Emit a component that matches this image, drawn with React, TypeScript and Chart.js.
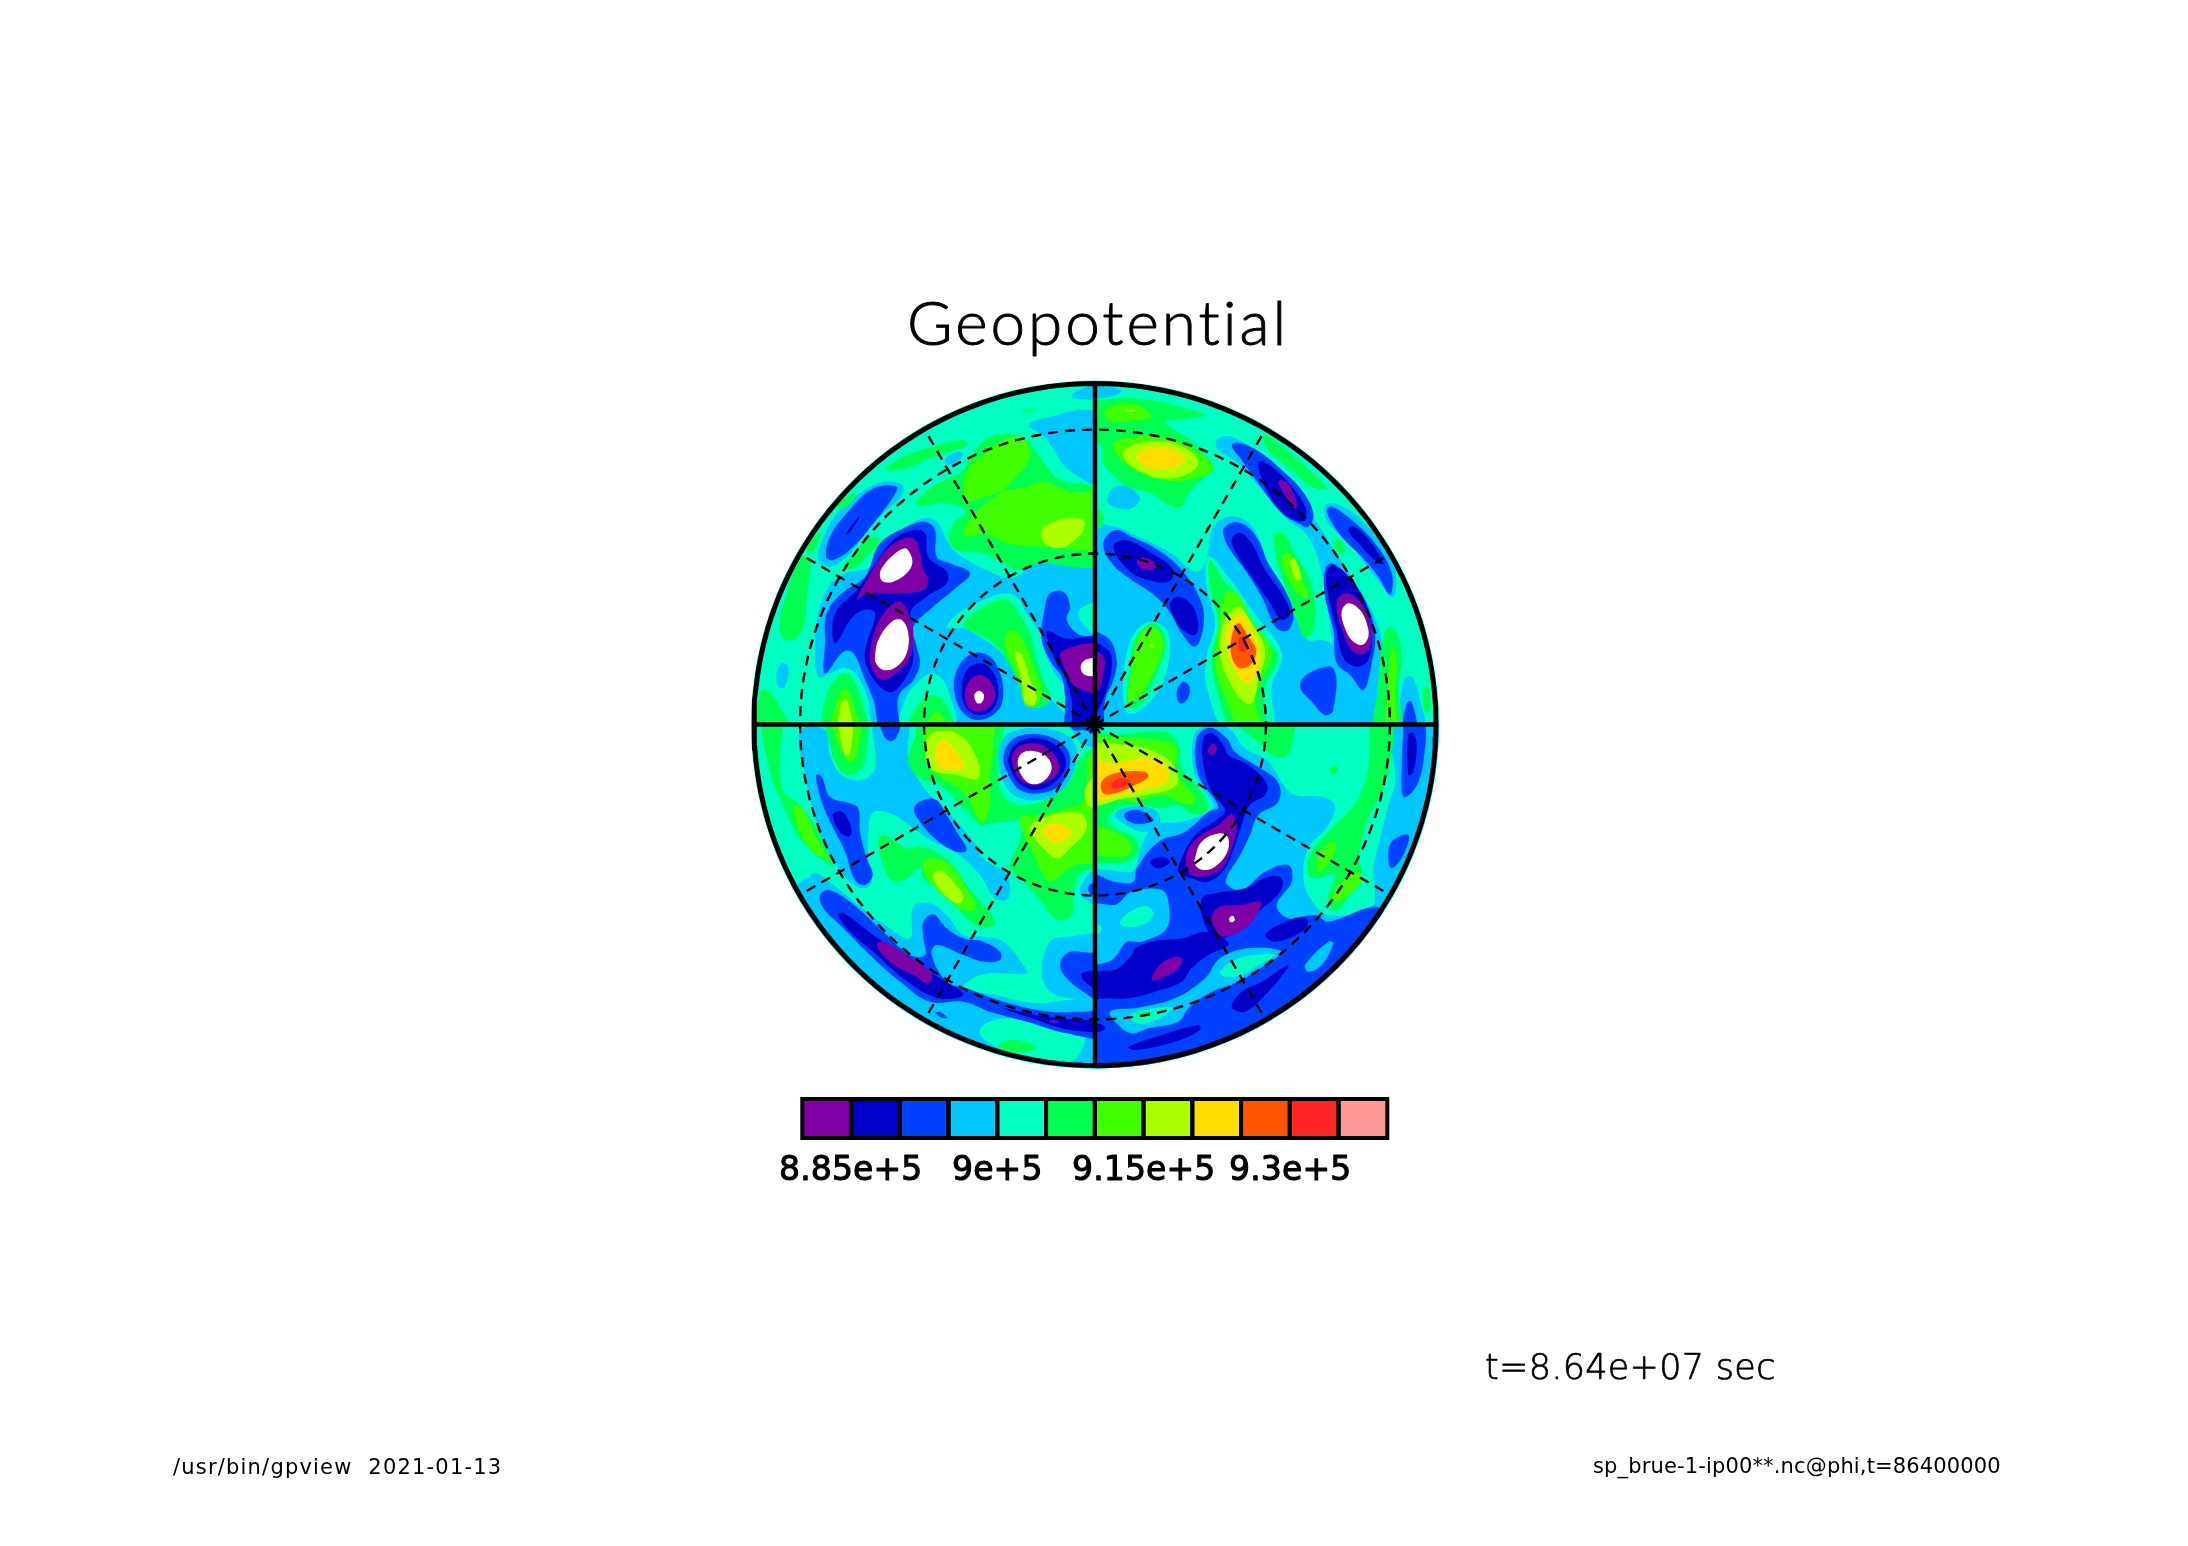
import React, { useEffect, useRef } from "react";
import { Chart, registerables } from "chart.js";

const quadClip = {
  id: "quadClip",
  beforeDatasetDraw(chart: any, args: any) {
    const ctx = chart.ctx;
    ctx.save();
    const q = chart.data.datasets[args.index].quad;
    if (q) {
      const { x, y } = chart.scales;
      const x0 = x.getPixelForValue(q[0]), y0 = y.getPixelForValue(q[1]);
      ctx.beginPath();
      ctx.rect(x0, y0, x.getPixelForValue(q[0] + 400) - x0, y.getPixelForValue(q[1] + 400) - y0);
      ctx.clip();
    }
  },
  afterDatasetDraw(chart: any) {
    chart.ctx.restore();
  },
};
// Registered ahead of the filler so that each contour's fill is clipped to its own quadrant.
Chart.register(quadClip);
Chart.register(...registerables);

const W = 2188, H = 1546;
const CX = 1095, CY = 724.5, R = 341;

const chartTitle = "Geopotential";
const legendColors = ["#7f00a5", "#0000c8", "#0040ff", "#00c8ff", "#00ffc0", "#00ff50", "#40ff00", "#aaff00", "#ffdd00", "#ff5500", "#ff2525", "#ff9999"];
const legendTicks = ["8.85e+5", "9e+5", "9.15e+5", "9.3e+5"];
const timeLabel = "t=8.64e+07 sec";
const footerLeft = "/usr/bin/gpview  2021-01-13";
const footerRight = "sp_brue-1-ip00**.nc@phi,t=86400000";
const latitudeRadii = [171, 295];
const meridians = [30, 60, 120, 150, 210, 240, 300, 330];
const solidMeridians = [0, 90, 180, 270];

const [WH, P, D, B, C, A, G, L, Y, O, RD, E] = [-1, 0, 1, 2, 3, 4, 5, 6, 7, 8, 9, 10];

type Contour = [number, number[]];

const contoursNW: Contour[] = [
  [C, [965,50,985,30,1035,22,1035,55,1000,58]],
  [C, [205,540,225,460,280,380,385,310,450,310,460,340,400,400,340,470,290,530,240,560]],
  [C, [205,700,235,620,285,580,360,560,400,490,470,440,520,415,560,425,590,480,610,510,660,545,720,575,760,590,800,590,840,560,900,535,1035,525,1060,800,1060,1060,375,1060,355,960,320,890,280,868,240,880,205,890,195,790]],
  [C, [80,880,95,850,115,860,105,920,85,920]],
  [C, [835,135,880,115,1035,95,1060,200,1035,310,985,290,940,255,905,200,870,160]],
  [G, [720,170,800,165,830,180,880,245,930,300,1035,325,1060,440,1035,555,960,560,880,550,800,570,760,550,700,520,620,510,598,480,610,430,650,395,590,370,500,375,540,325,640,270,660,230]],
  [L, [650,275,700,225,760,180,815,170,840,230,770,320,720,360,690,385,640,450,650,470,700,460,770,490,880,500,1000,510,1035,515,1060,430,1035,345,960,335,880,305,830,320,770,330,720,345,650,360]],
  [Y, [875,450,900,430,950,415,1000,420,1003,440,985,470,930,505,885,490]],
  [G, [408,270,450,235,530,205,640,180,650,195,600,215,540,235,470,265]],
  [C, [585,240,620,215,640,225,600,255]],
  [G, [815,90,860,85,850,92,820,95]],
  [G, [90,720,110,640,150,530,180,540,170,650,160,740,130,780,95,770]],
  [G, [20,1060,30,940,50,930,90,980,120,1060]],
  [G, [170,510,195,470,215,460,185,520]],
  [G, [260,375,310,340,320,345,280,385]],
  [G, [285,565,310,520,350,480,385,470,385,490,350,530,310,565]],
  [A, [590,740,640,690,700,660,760,640,800,650,830,700,875,770,890,830,915,880,950,930,975,990,960,1010,925,980,870,920,830,880,790,860,745,810,690,770,640,745]],
  [G, [640,735,700,680,770,660,800,690,840,760,860,840,880,900,900,950,880,980,830,975,800,900,770,840,730,790,680,760]],
  [L, [765,770,790,750,820,780,850,860,875,930,860,975,825,975,810,900,775,830]],
  [Y, [795,815,815,825,840,900,860,950,850,975,825,965,815,900]],
  [A, [985,700,1000,680,1040,670,1040,765,1000,730]],
  [A, [455,1060,465,960,510,900,550,880,590,920,610,1060]],
  [G, [480,1060,500,980,550,945,590,975,610,1060]],
  [L, [525,1060,545,1005,570,1000,590,1060]],
  [A, [210,1060,215,950,250,880,290,865,330,900,350,980,365,1060]],
  [G, [222,1060,228,950,260,895,290,880,320,920,340,980,350,1060]],
  [L, [248,1060,258,970,285,925,310,970,322,1060]],
  [Y, [268,1060,272,975,285,958,298,980,305,1060]],
  [B, [228,530,240,470,290,400,370,325,440,320,430,350,370,430,310,500,250,540]],
  [D, [287,460,325,410,328,413,295,462]],
  [B, [225,790,230,700,275,640,345,590,390,490,470,440,525,425,555,450,560,530,600,550,660,580,610,630,550,680,490,740,500,800,510,850,490,900,445,950,445,1060,395,1060,370,960,345,900,310,820,280,815,225,880]],
  [D, [255,790,255,700,320,630,370,560,430,480,490,450,525,460,535,530,590,575,590,610,530,650,480,700,490,830,480,870,430,935,390,920,350,860,345,810,375,700,340,690,300,720]],
  [P, [320,660,350,600,400,520,440,485,490,475,510,520,520,570,535,600,520,630,440,640,380,640,340,645]],
  [WH, [390,590,395,565,430,525,465,505,480,520,487,550,470,580,430,605,400,605]],
  [P, [360,830,375,750,410,690,450,665,480,710,490,760,480,830,450,870,400,900,370,875]],
  [WH, [375,830,385,780,425,725,455,720,475,760,470,820,440,860,400,870,378,850]],
  [B, [612,930,625,860,670,820,720,830,750,880,760,940,745,990,690,1020,640,1000]],
  [D, [635,930,650,870,690,850,725,870,745,930,730,985,690,1005,650,985]],
  [P, [645,935,665,895,695,885,725,910,735,950,715,985,680,995,650,975]],
  [WH, [673,945,687,932,702,945,695,968,680,968]],
  [B, [885,680,900,640,940,635,960,680,950,720,990,765,1060,775,1060,1060,955,1060,945,950,935,890,905,850,875,780]],
  [D, [890,755,940,775,1060,785,1060,1060,975,1060,965,960,945,890,920,850]],
  [P, [935,815,1060,800,1060,940,1000,930,965,910,945,870]],
  [WH, [992,860,1010,838,1050,838,1050,882,1005,885]],
];

const contoursNE: Contour[] = [
  [C, [-20,20,80,30,50,50,-20,50]],
  [C, [365,180,410,170,500,230,590,330,660,420,730,530,800,640,850,740,860,820,840,900,780,930,730,860,700,700,680,580,640,470,580,420,500,330,430,250,370,210]],
  [C, [-20,445,60,440,130,470,230,520,300,575,330,550,355,440,400,410,450,420,490,470,520,560,560,640,590,700,610,720,640,780,680,780,720,800,770,920,840,900,855,780,850,900,830,1060,-20,1060]],
  [C, [40,345,60,320,100,320,135,355,110,385,70,385,40,370]],
  [C, [925,900,950,890,975,960,990,1060,920,1060]],
  [C, [690,380,720,370,800,420,870,510,900,560,895,650,840,590,770,500,700,430]],
  [G, [-20,75,70,55,170,60,270,85,330,105,280,115,210,125,240,150,300,190,355,265,330,290,280,340,260,380,220,375,170,340,100,320,60,290,25,250,20,200,-20,170]],
  [L, [30,90,90,70,140,80,170,110,100,125,40,120]],
  [Y, [95,90,120,90,120,94,95,94]],
  [L, [55,190,120,170,200,170,290,205,355,265,300,295,200,300,120,270,70,230]],
  [Y, [85,215,130,190,210,185,280,210,310,250,270,285,200,295,140,275,95,245]],
  [O, [125,225,160,205,225,205,270,235,245,262,190,268,145,255]],
  [G, [-20,390,20,395,20,440,-20,440]],
  [G, [505,165,550,190,620,250,695,325,650,320,590,270,520,210]],
  [G, [715,490,735,480,750,510,735,520]],
  [G, [540,465,565,460,600,520,640,590,660,680,650,760,625,770,600,700,570,620,545,540]],
  [L, [560,530,585,520,620,600,640,650,620,650,580,600]],
  [Y, [585,545,598,535,620,595,605,600]],
  [G, [860,800,880,740,905,760,920,830,910,920,915,1060,840,1060,850,920]],
  [L, [875,1060,880,880,890,800,905,850,900,960,905,1060]],
  [G, [985,930,1000,920,1005,990,990,995]],
  [A, [340,530,400,590,470,690,560,820,530,920,530,1060,400,1060,335,920,335,830,360,730,335,620]],
  [G, [345,540,385,600,430,650,470,720,520,790,550,830,510,920,505,1060,420,1060,365,930,350,830,370,730,345,620]],
  [L, [390,640,425,640,470,720,530,815,500,900,480,960,500,1060,440,1060,395,960,362,860,370,760]],
  [Y, [385,730,430,680,470,730,510,810,490,900,470,970,440,960,395,890,375,820]],
  [O, [400,740,440,700,470,750,495,810,480,890,450,910,415,860,395,800]],
  [RD, [410,770,430,730,460,770,483,810,470,850,435,865,410,830]],
  [E, [430,780,450,770,455,810,440,815]],
  [A, [85,900,100,800,130,745,170,725,215,750,225,810,205,900,150,980,100,1000,85,960]],
  [G, [95,950,105,860,120,780,170,730,205,760,210,810,185,880,140,970,105,985]],
  [L, [100,960,115,840,130,770,170,740,200,770,200,820,170,890,130,950]],
  [Y, [165,793,178,798,172,803,164,798]],
  [B, [245,935,265,905,285,925,275,960,255,970]],
  [B, [615,920,640,880,715,865,715,990,690,1005,650,965]],
  [B, [25,490,60,450,110,470,190,510,265,575,320,670,325,740,300,800,260,760,220,690,170,640,110,600,50,550]],
  [D, [55,500,90,480,170,520,235,570,220,605,160,600,100,570]],
  [P, [125,545,150,533,185,555,170,570,140,565]],
  [D, [225,670,250,650,290,675,310,730,300,765,265,750,240,720]],
  [B, [385,450,410,428,450,435,490,480,520,550,570,630,595,700,580,750,545,745,500,650,450,570,400,500]],
  [D, [410,480,435,458,470,490,510,570,560,640,585,700,560,720,520,660,470,590,430,530]],
  [B, [410,195,440,190,500,220,560,270,620,330,655,400,640,440,610,430,560,400,490,310,440,240]],
  [D, [490,245,530,260,590,320,630,380,630,420,600,420,555,390,510,320]],
  [P, [550,305,575,305,605,365,600,385,580,360]],
  [B, [695,395,710,380,770,420,840,490,890,580,885,645,850,590,800,530,740,470]],
  [D, [760,450,780,440,830,490,865,550,850,550,800,500]],
  [B, [690,570,710,550,760,590,810,660,840,760,830,850,805,930,765,885,725,850,715,750,690,650]],
  [D, [695,580,715,555,770,600,815,680,830,770,820,840,785,860,745,835,725,750,700,650]],
  [P, [725,665,755,640,790,660,820,710,830,780,810,820,775,815,745,760]],
  [WH, [740,695,760,670,795,690,815,730,820,770,800,795,770,780,750,745]],
  [B, [925,1060,935,970,950,965,965,1060]],
  [B, [-25,760,40,775,65,840,55,900,30,960,20,1060,-25,1060]],
  [D, [-25,790,40,810,50,860,35,930,10,990,-25,1060]],
  [P, [-25,805,25,830,25,880,10,930,-25,945]],
];

const contoursSW: Contour[] = [
  [G, [38,-20,92,-20,90,100,100,200,140,230,200,310,250,420,225,410,150,340,90,220,55,120]],
  [L, [135,240,165,260,200,340,230,400,180,370,140,300]],
  [C, [150,18,225,15,240,90,275,150,335,165,375,130,375,-20,470,-20,475,90,510,170,560,230,620,290,670,350,700,400,770,450,775,520,735,520,690,450,620,385,540,345,470,295,420,265,370,262,355,320,355,400,365,470,340,490,300,470,265,430,225,360,190,260,165,150]],
  [G, [235,-20,345,-20,350,70,335,130,290,150,260,120,240,60]],
  [L, [245,-20,325,-20,320,90,300,110,275,80,255,30]],
  [Y, [268,-20,305,-20,300,85,285,90,272,40]],
  [B, [392,-20,450,-20,440,35,420,48,400,30]],
  [B, [198,150,215,155,240,215,300,235,325,250,330,320,350,400,368,450,345,480,315,465,285,380,245,300,215,230]],
  [D, [248,270,270,258,290,275,305,320,295,335,270,320]],
  [B, [492,250,520,225,560,225,590,270,620,320,650,375,620,380,560,345,510,290]],
  [G, [385,350,400,330,470,370,510,365,590,400,650,480,700,540,735,595,690,605,640,570,590,510,520,460,510,430,470,460,430,470,400,420]],
  [L, [518,420,545,400,600,420,650,490,680,550,640,555,590,520,540,470]],
  [Y, [548,455,570,435,610,470,640,515,625,535,585,510]],
  [G, [475,110,495,40,520,-20,745,-20,755,70,745,170,770,225,830,240,900,215,960,160,1000,90,1060,60,1060,430,995,440,970,500,965,570,925,585,880,540,840,490,800,450,780,420,810,340,810,290,760,290,720,295,690,300,640,250,570,180,510,160]],
  [L, [530,100,520,40,530,-20,720,-20,730,70,720,150,720,240,700,290,680,270,640,200,560,150]],
  [L, [810,280,870,270,950,250,1000,230,1010,180,1015,100,1060,70,1060,400,975,420,900,470,880,450,850,390]],
  [Y, [530,50,555,20,630,30,680,100,685,160,620,150,540,130]],
  [O, [555,90,565,55,585,45,615,75,645,125,615,135,570,130]],
  [Y, [840,310,890,275,990,265,1010,310,950,380,920,400,880,370]],
  [O, [875,318,910,295,950,305,965,320,945,345,915,355,885,335]],
  [Y, [1012,240,1010,180,1060,150,1060,245]],
  [C, [945,-20,1060,-20,1060,60,1000,60,975,30]],
  [B, [960,-20,1060,-20,1060,30,1000,15,970,15]],
  [C, [745,90,760,40,800,15,880,10,950,30,980,70,970,140,930,200,870,225,800,215,760,170]],
  [B, [760,100,780,50,830,28,900,35,950,70,960,120,930,180,870,205,810,195,775,150]],
  [D, [775,100,795,60,840,40,900,50,940,85,945,130,910,175,860,195,815,180,785,140]],
  [P, [785,105,800,70,840,55,885,65,920,100,925,140,890,170,850,180,810,165]],
  [WH, [803,115,815,85,850,78,890,95,905,130,885,165,850,178,820,160]],
  [C, [990,490,1030,440,1060,540,1000,520]],
  [B, [1018,480,1060,470,1060,510,1020,505]],
  [C, [160,470,195,445,250,480,330,545,420,610,480,640,490,545,540,535,590,570,640,630,700,635,760,650,820,720,830,745,700,748,640,790,740,810,860,835,980,825,1060,850,1060,1100,500,1100,100,700,100,500]],
  [C, [875,735,900,650,950,635,1060,640,1060,860,980,825,900,800]],
  [A, [690,930,700,900,770,880,850,895,940,920,1000,925,1000,965,960,1010,860,1000,760,975]],
  [G, [745,960,790,945,860,965,820,980,770,978]],
  [B, [210,510,235,495,300,530,400,620,480,690,525,690,520,640,520,590,550,568,590,610,640,640,700,650,750,680,750,705,700,710,640,690,560,660,545,690,590,770,650,790,760,830,900,860,1000,860,1060,860,1060,935,950,925,830,890,720,860,640,830,540,830,450,770,370,700,280,610,220,550]],
  [D, [265,570,280,563,370,630,470,700,570,760,640,805,620,820,550,815,460,760,370,680,300,620]],
  [D, [760,850,860,870,1000,885,1060,880,1060,915,960,915,860,885]],
  [P, [380,660,400,650,470,690,545,745,535,775,490,750,420,710]],
  [P, [898,887,925,887,925,892,900,892]],
  [B, [555,863,570,862,592,878,575,878]],
  [B, [930,720,950,685,990,680,1060,700,1060,830,1000,800,950,760]],
  [D, [995,745,1060,740,1060,800,1005,770]],
];

const contoursSE: Contour[] = [
  [C, [-20,455,110,440,140,360,180,300,260,290,320,270,355,240,300,150,295,40,325,5,400,10,450,70,520,110,590,205,680,215,720,240,700,300,640,370,625,450,640,510,700,570,830,545,840,500,835,430,860,320,880,240,900,170,897,-20,1100,-20,1100,1100,-20,1100]],
  [B, [-20,455,60,470,115,470,125,430,190,350,270,320,340,260,370,245,310,150,305,40,345,8,395,40,420,80,480,120,548,170,550,230,490,270,465,330,430,400,398,450,395,478,440,495,510,440,580,420,590,470,545,540,580,580,660,570,700,590,830,545,870,560,1100,800,500,1100,-20,1100]],
  [C, [-20,545,60,540,110,500,200,495,220,530,215,610,140,650,95,650,65,690,40,710,-20,710]],
  [A, [75,590,115,555,160,545,175,570,140,600,90,605]],
  [A, [-20,590,20,610,-20,650]],
  [C, [45,860,120,850,240,820,330,760,375,700,460,670,560,680,510,720,430,770,350,800,280,850,250,890,160,910,110,925,70,900]],
  [A, [375,740,430,700,480,690,540,690,490,720,440,750,390,755]],
  [A, [105,870,180,850,235,850,170,890,125,895]],
  [G, [120,865,170,860,150,875]],
  [C, [630,720,700,650,715,655,680,720,640,740]],
  [D, [-20,750,60,735,110,690,120,670,170,650,260,640,330,620,385,640,400,660,340,690,290,730,260,770,180,800,100,820,30,820,-20,820]],
  [P, [170,765,190,725,225,700,260,700,250,730,210,755]],
  [D, [325,40,350,25,385,60,400,90,460,120,515,175,510,210,465,240,440,300,420,360,390,430,340,470,290,460,250,440,260,400,300,330,370,280,390,255,350,200,325,120]],
  [D, [165,410,200,395,225,410,190,430]],
  [P, [272,400,300,345,370,300,410,268,425,300,410,370,380,430,340,450,290,450]],
  [P, [340,70,355,55,365,70,355,90,342,85]],
  [WH, [300,400,320,350,375,325,400,340,395,385,360,425,325,435,300,420]],
  [D, [320,520,360,505,450,490,520,455,560,460,555,500,490,560,420,620,370,640,330,600]],
  [P, [350,575,375,545,440,540,495,530,490,560,450,610,385,635,360,610]],
  [WH, [402,582,412,572,420,585,408,592]],
  [D, [510,630,550,600,620,575,640,590,620,620,540,650]],
  [D, [410,845,440,800,500,770,580,720,555,760,520,800,450,860]],
  [D, [100,965,200,930,310,900,315,915,240,950,120,975]],
  [D, [-20,890,30,905,20,918,-20,918]],
  [C, [60,270,100,245,180,255,195,300,150,320,110,310]],
  [G, [-20,30,60,30,210,20,250,60,260,130,310,190,335,230,330,265,290,265,250,240,200,250,130,240,70,250,40,280,60,310,115,335,130,380,95,410,30,415,-20,400]],
  [B, [90,265,130,255,175,285,130,297,95,285]],
  [L, [-20,50,100,40,215,50,245,70,240,130,270,180,300,220,280,240,200,210,120,230,60,220,-20,240]],
  [Y, [-20,70,100,60,200,90,240,130,245,180,180,205,90,220,-20,235]],
  [O, [-20,110,60,115,130,100,190,100,215,130,215,170,160,190,80,210,-20,220]],
  [RD, [20,170,60,145,150,140,160,155,120,180,60,205,25,205]],
  [E, [50,175,80,160,105,170,80,188,55,190]],
  [L, [-20,310,60,320,110,360,100,390,40,395,-20,380]],
  [G, [415,-20,590,-20,590,60,570,95,530,90,500,60]],
  [G, [830,-20,890,-20,885,120,860,200,820,280,790,400,800,440,720,560,700,510,720,450,665,460,640,450,645,390,700,320,770,250,810,170,825,80]],
  [L, [665,420,680,375,720,350,715,395,695,420,670,440]],
  [L, [710,510,750,460,790,440,800,470,740,525,712,530]],
  [G, [705,130,720,120,727,140,712,148]],
  [B, [925,20,930,-20,985,-20,985,110,960,190,925,215,920,120]],
  [D, [940,30,955,25,965,60,955,140,940,150]],
  [B, [880,400,890,350,940,330,925,390,890,430]],
];

// Closed loop, with one vertex repeated at each end so the spline stays smooth across the seam.
const toPoints = (flat: number[], ox: number, oy: number) => {
  const pts: { x: number; y: number }[] = [];
  for (let i = 0; i < flat.length; i += 2) pts.push({ x: ox + flat[i] / 3, y: oy + flat[i + 1] / 3 });
  return [pts[pts.length - 1], ...pts, pts[0], pts[1]].map((p) => ({ ...p }));
};

const colorOf = (lv: number) => (lv < 0 ? "#ffffff" : legendColors[lv]);

const buildDatasets = () => {
  const ds: any[] = [];
  const area = (data: any[], color: string, tension = 0.38, quad: number[] | null = null) => ({
    data, showLine: true, fill: "shape", backgroundColor: color, borderWidth: 0, borderColor: color, pointRadius: 0, tension, quad,
  });
  const line = (data: any[], width: number, dash: number[] = []) => ({
    data, showLine: true, fill: false, borderColor: "#000", borderWidth: width, borderDash: dash, pointRadius: 0, tension: 0, borderCapStyle: "butt",
  });
  ds.push(area([{ x: -R - 5, y: -R - 5 }, { x: R + 5, y: -R - 5 }, { x: R + 5, y: R + 5 }, { x: -R - 5, y: R + 5 }, { x: -R - 5, y: -R - 5 }], legendColors[4], 0));
  const groups: [Contour[], number, number, number[]][] = [
    [contoursNW, -345, -344.5, [-400, -400]], [contoursNE, 0, -344.5, [0, -400]], [contoursSW, -345, 0.5, [-400, 0]], [contoursSE, 0, 0.5, [0, 0]],
  ];
  for (const [list, ox, oy, quad] of groups) for (const [lv, flat] of list) ds.push(area(toPoints(flat, ox, oy), colorOf(lv), 0.38, quad));
  for (const a of meridians) {
    const t = (a * Math.PI) / 180;
    ds.push(line([{ x: 0, y: 0 }, { x: R * Math.cos(t), y: -R * Math.sin(t) }], 2.4, [10, 7]));
  }
  for (const r of latitudeRadii) {
    const pts = [];
    for (let d = 0; d <= 360; d += 3) pts.push({ x: r * Math.cos((d * Math.PI) / 180), y: r * Math.sin((d * Math.PI) / 180) });
    ds.push(line(pts, 2.4, [10, 7]));
  }
  for (const a of solidMeridians) {
    const t = (a * Math.PI) / 180;
    ds.push(line([{ x: 0, y: 0 }, { x: R * Math.cos(t), y: -R * Math.sin(t) }], 4.5));
  }
  const ring = [];
  for (let d = 0; d <= 360; d += 2) ring.push({ x: R * Math.cos((d * Math.PI) / 180), y: R * Math.sin((d * Math.PI) / 180) });
  ds.push(line(ring, 5));
  return ds.map((d, i) => ({ ...d, order: -i }));
};

const mapClip = {
  id: "mapClip",
  beforeDatasetsDraw(chart: any) {
    const { ctx, scales } = chart;
    ctx.save();
    ctx.beginPath();
    ctx.arc(scales.x.getPixelForValue(0), scales.y.getPixelForValue(0), R + 3, 0, Math.PI * 2);
    ctx.clip();
  },
  afterDatasetsDraw(chart: any) {
    chart.ctx.restore();
  },
};

const barLeft = 802.3, barTop = 1099, cellW = 48.75, barH = 39;
const annotations = {
  id: "annotations",
  afterDraw(chart: any) {
    const { ctx } = chart;
    ctx.save();
    legendColors.forEach((c, i) => {
      ctx.fillStyle = c;
      ctx.fillRect(barLeft + i * cellW, barTop, cellW, barH);
    });
    ctx.strokeStyle = "#000";
    ctx.lineWidth = 4;
    legendColors.forEach((_, i) => ctx.strokeRect(barLeft + i * cellW, barTop, cellW, barH));
    ctx.fillStyle = "#000";
    ctx.textBaseline = "alphabetic";
    ctx.textAlign = "left";
    ctx.lineJoin = "round";
    const put = (s: string, x: number, y: number, font: string, spacing = "0px", heavy = 0) => {
      ctx.font = font;
      ctx.letterSpacing = spacing;
      ctx.fillText(s, x, y);
      if (heavy) {
        ctx.lineWidth = heavy;
        ctx.strokeText(s, x, y);
      }
    };
    put(chartTitle, 907, 345, "300 62px Lato", "3px", 0.9);
    const tickX = [779, 952, 1072, 1229];
    legendTicks.forEach((t, i) => put(t, tickX[i], 1180, '400 33px "DejaVu Sans"', "0.15px", 1.1));
    put(timeLabel, 1485, 1379, '200 35px "DejaVu Sans"', "0.3px", 0.7);
    put(footerLeft, 173, 1474, '400 21px "DejaVu Sans"', "1.2px");
    put(footerRight, 1593, 1473, '400 21px "DejaVu Sans"', "0.15px");
    ctx.restore();
  },
};

export default function App() {
  const ref = useRef<HTMLCanvasElement>(null);
  useEffect(() => {
    const chart = new Chart(ref.current as HTMLCanvasElement, {
      type: "scatter",
      data: { datasets: buildDatasets() },
      options: {
        animation: false,
        responsive: false,
        devicePixelRatio: 1,
        layout: { padding: 0 },
        plugins: { legend: { display: false }, tooltip: { enabled: false }, title: { display: false } },
        elements: { line: { capBezierPoints: false } },
        scales: {
          x: { type: "linear", display: false, min: -CX, max: W - CX },
          y: { type: "linear", display: false, reverse: true, min: -CY, max: H - CY },
        },
      } as any,
      plugins: [mapClip, annotations],
    });
    return () => chart.destroy();
  }, []);
  return (
    <div style={{ position: "fixed", left: 0, top: 0, width: W, height: H, background: "#fff" }}>
      <canvas ref={ref} width={W} height={H} style={{ display: "block", width: W, height: H }} />
    </div>
  );
}
